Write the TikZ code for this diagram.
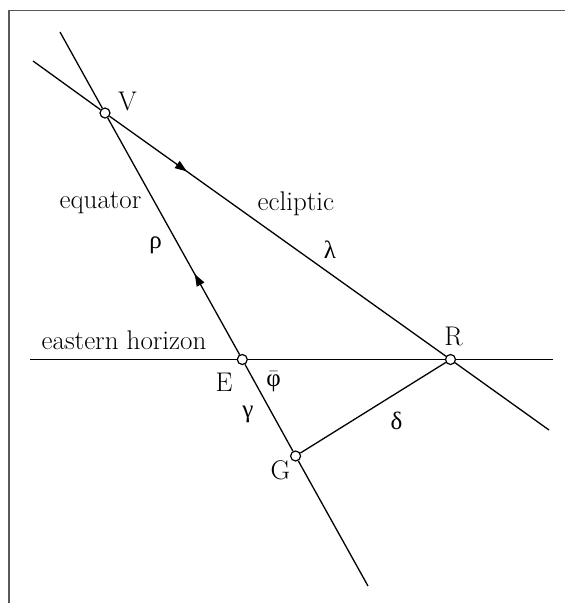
\documentclass[tikz,border=0pt]{standalone}
\usepackage{fontspec}
\newfontfamily\grk{Liberation Serif}
\usetikzlibrary{arrows.meta,decorations.markings}
\begin{document}
\begin{tikzpicture}[x=1pt,y=-1pt,line width=1.3pt,
  pt/.style={circle,draw,fill=white,inner sep=0pt,minimum size=10pt,line width=1.2pt},
  lbl/.style={font=\fontsize{27}{31}\selectfont,inner sep=0pt},
  glbl/.style={font=\fontsize{25}{29}\selectfont\grk,inner sep=0pt},
  midarrow/.style={postaction={decorate,decoration={markings,
      mark=at position #1 with {\arrow{Triangle[length=12pt,width=8.5pt]}}}}}
]
\useasboundingbox (0,0) rectangle (565,603);
\draw[line width=1.5pt,black!65] (9,603) -- (9,10.5) -- (565,10.5);

% free ends
\coordinate (eqT) at (60,32);
\coordinate (eqB) at (368,586);
\coordinate (ecT) at (33,61);
\coordinate (ecB) at (549,430);
\coordinate (hzL) at (30,359.5);
\coordinate (hzR) at (553,359.5);

% points
\node[pt] (V) at (105,113) {};
\node[pt] (E) at (242.3,359.5) {};
\node[pt] (G) at (295.6,456) {};
\node[pt] (R) at (450.5,359.5) {};

% ecliptic
\draw (ecT) -- (V);
\draw[midarrow=0.23] (V) -- (R);
\draw (R) -- (ecB);
% equator
\draw (eqT) -- (V);
\draw[midarrow=0.34] (E) -- (V);
\draw (E) -- (G);
\draw (G) -- (eqB);
% horizon
\draw (hzL) -- (E);
\draw (E) -- (R);
\draw (R) -- (hzR);
% G-R
\draw (G) -- (R);

% labels
\node[lbl] (lV) at (127.5,101) {V};
\node[lbl] (lR) at (453.5,336) {R};
\node[lbl] (lE) at (224,382) {E};
\node[lbl] (lG) at (280.5,470.5) {G};
\node[lbl,anchor=base west] (leq) at (59,208) {equator};
\node[lbl,anchor=base west] (lec) at (257,210.5) {ecliptic};
\node[lbl,anchor=base west] (lhz) at (41,349) {eastern horizon};
\node[glbl] (lrho) at (155.5,245) {ρ};
\node[glbl] (llam) at (330,250) {λ};
\node[glbl] (lgam) at (248,414) {γ};
\node[glbl] (ldel) at (396.5,421) {δ};
\node[lbl] (lphi) at (273.5,382) {$\bar{\mbox{\fontsize{25}{29}\selectfont\grk φ}}$};
\end{tikzpicture}
\end{document}
